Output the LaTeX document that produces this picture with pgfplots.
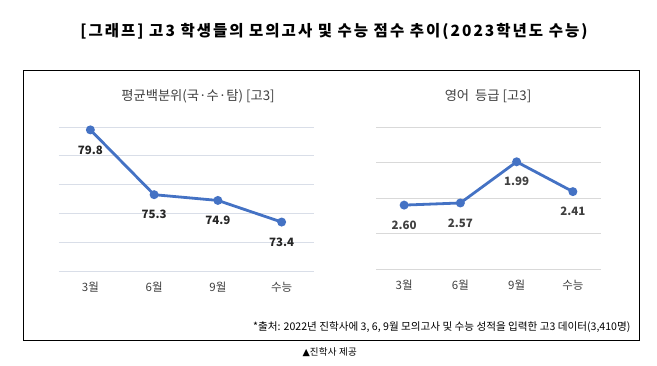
\documentclass[border=0pt]{standalone}
\usepackage{pgfplots}
\pgfplotsset{compat=1.18}
\usepackage{fontspec}
\setmainfont{Noto Sans CJK KR}
\newfontfamily\titlefont[LetterSpace=13]{Noto Sans CJK KR}
\newfontfamily\subfont[LetterSpace=3]{Noto Sans CJK KR}
\newfontfamily\symfont{DejaVu Sans}
\definecolor{lineblue}{HTML}{4472C4}
\definecolor{gridL}{HTML}{D9DEE8}
\definecolor{gridR}{HTML}{D9D9D9}
\definecolor{txtdark}{HTML}{262626}
\definecolor{txtgray}{HTML}{404040}
\begin{document}
\begin{tikzpicture}[x=1pt,y=1pt]
\path[use as bounding box] (0pt,0pt) rectangle (657pt,365pt);
% title
\node[font=\fontsize{15.5}{18}\titlefont\bfseries, text=black] at (334pt,333pt) {[그래프] 고3 학생들의 모의고사 및 수능 점수 추이(2023학년도 수능)};
% frame
\draw[line width=0.9pt] (23pt,295pt) rectangle (639pt,25pt);
% subtitles
\node[font=\fontsize{13.3}{15}\selectfont, text=txtgray] at (198pt,269pt) {평균백분위(국·수·탐) [고3]};
\node[font=\fontsize{13.3}{15}\selectfont, text=txtgray] at (488pt,269pt) {영어\ \ 등급\ [고3]};
% left chart
\begin{axis}[at={(58.5pt,94pt)}, anchor=south west, scale only axis,
  width=255pt, height=144pt, xmin=-0.5, xmax=3.5, ymin=70, ymax=80,
  clip=false, axis line style={draw=none}, tick style={draw=none},
  ytick={70,72,74,76,78,80}, yticklabels={},
  xtick={0,1,2,3}, xticklabels={3월,6월,9월,수능},
  xticklabel style={anchor=center, yshift=-16pt, font=\fontsize{11.5}{13}\selectfont, text=txtgray},
  ymajorgrids, major grid style={draw=gridL, line width=0.9pt},
  point meta=explicit symbolic,
  nodes near coords,
  every node near coord/.append style={anchor=center, yshift=-20pt, font=\fontsize{11.5}{13}\selectfont\bfseries, text=txtdark},
]
\addplot[color=lineblue, line width=2.8pt, mark=*, mark size=3pt, mark options={fill=lineblue, draw=lineblue}]
 coordinates {(0,79.8) [79.8] (1,75.3) [75.3] (2,74.9) [74.9] (3,73.4) [73.4]};
\end{axis}
% right chart
\begin{axis}[at={(376pt,96pt)}, anchor=south west, scale only axis,
  width=225pt, height=142pt, xmin=-0.5, xmax=3.5, ymin=1.5, ymax=3.5, y dir=reverse,
  clip=false, axis line style={draw=none}, tick style={draw=none},
  ytick={1.5,2,2.5,3,3.5}, yticklabels={},
  xtick={0,1,2,3}, xticklabels={3월,6월,9월,수능},
  xticklabel style={anchor=center, yshift=-16pt, font=\fontsize{11.5}{13}\selectfont, text=txtgray},
  ymajorgrids, major grid style={draw=gridR, line width=0.9pt},
  point meta=explicit symbolic,
  nodes near coords,
  every node near coord/.append style={anchor=center, yshift=-20pt, font=\fontsize{11.5}{13}\selectfont\bfseries, text=txtgray},
]
\addplot[color=lineblue, line width=2.8pt, mark=*, mark size=3pt, mark options={fill=lineblue, draw=lineblue}]
 coordinates {(0,2.60) [2.60] (1,2.57) [2.57] (2,1.99) [1.99] (3,2.41) [2.41]};
\end{axis}
% footnote
\node[font=\fontsize{10.6}{12}\selectfont, text=black, anchor=east] at (634pt,38pt) {*출처: 2022년 진학사에 3, 6, 9월 모의고사 및 수능 성적을 입력한 고3 데이터(3,410명)};
\node[font=\fontsize{9.5}{11}\subfont, text=black, anchor=west] at (299pt,13pt) {{\symfont ▲}진학사 제공};
\end{tikzpicture}
\end{document}
